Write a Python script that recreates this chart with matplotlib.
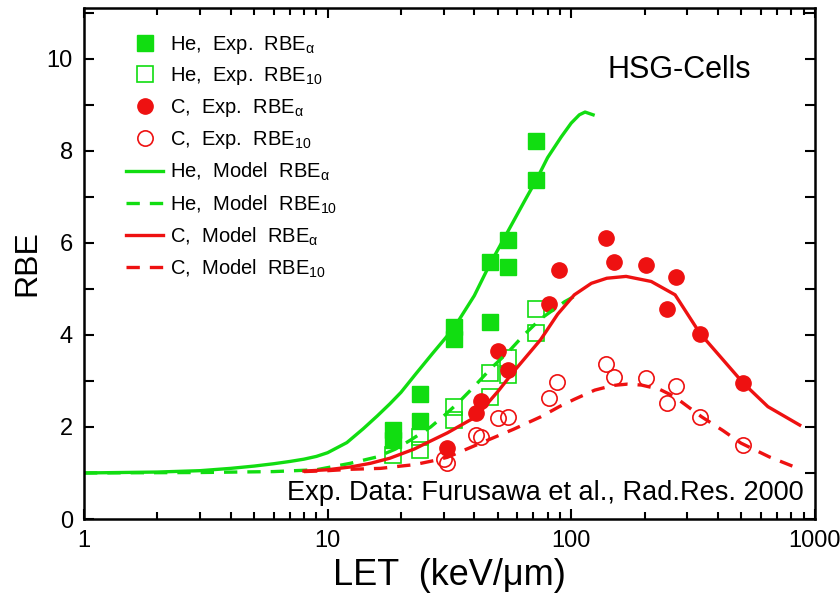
import numpy as np
import matplotlib.pyplot as plt
from matplotlib.ticker import MultipleLocator, FuncFormatter, LogLocator, NullFormatter

plt.rcParams['font.family'] = ['Liberation Sans', 'DejaVu Sans']
plt.rcParams['mathtext.fontset'] = 'dejavusans'

he_exp_a_let = [18.6, 18.6, 24, 24, 32.9, 32.9, 46.3, 46.3, 54.8, 54.8, 71.5, 71.5]
he_exp_a_rbe = [1.93, 1.72, 2.72, 2.12, 4.18, 3.91, 4.27, 5.59, 6.06, 5.48, 8.22, 7.37]

he_exp_10_let = [18.6, 24, 24, 32.9, 32.9, 46.3, 46.3, 54.8, 54.8, 71.5, 71.5]
he_exp_10_rbe = [1.40, 1.79, 1.50, 2.44, 2.15, 3.17, 2.66, 3.49, 3.13, 4.56, 4.05]

c_exp_a_let = [30.9, 40.6, 42.8, 50.1, 54.8, 81.4, 89.5, 139, 150, 202, 248, 270, 337, 509]
c_exp_a_rbe = [1.54, 2.30, 2.57, 3.66, 3.24, 4.67, 5.40, 6.10, 5.59, 5.51, 4.57, 5.25, 4.02, 2.95]

c_exp_10_let = [30.0, 31.0, 40.6, 42.6, 50.1, 54.8, 81.4, 87.6, 139, 150, 202, 248, 270, 337, 509]
c_exp_10_rbe = [1.30, 1.22, 1.83, 1.79, 2.19, 2.22, 2.62, 2.98, 3.37, 3.09, 3.06, 2.51, 2.90, 2.21, 1.61]

# Curvas del modelo
he_mod_a_let = [1, 2, 3, 4, 5, 6, 7, 8, 9, 10, 12, 14, 16, 18, 20, 23, 27, 33, 40, 46,
                55, 65, 72, 80, 91, 100, 108, 114, 123]
he_mod_a_rbe = [1.00, 1.02, 1.05, 1.10, 1.15, 1.20, 1.25, 1.30, 1.36, 1.44, 1.66, 1.96, 2.24, 2.50,
                2.75, 3.15, 3.60, 4.15, 4.85, 5.50, 6.25, 6.95, 7.37, 7.85, 8.30, 8.60, 8.78, 8.84, 8.78]

he_mod_10_let = [1, 3, 6, 9, 12.4, 16, 19, 22, 26.5, 30, 34, 40, 47, 55, 64, 75, 94, 110]
he_mod_10_rbe = [1.00, 1.01, 1.03, 1.07, 1.21, 1.35, 1.52, 1.72, 2.00, 2.24, 2.50, 2.88, 3.28,
                 3.62, 4.00, 4.35, 4.72, 4.92]

c_mod_a_let = [8, 10, 12.4, 15, 18, 22.7, 25, 31, 40.6, 50, 58, 75, 88, 103, 121, 140, 168,
               213, 267, 337, 415, 509, 642, 867]
c_mod_a_rbe = [1.04, 1.07, 1.13, 1.21, 1.32, 1.52, 1.63, 1.87, 2.22, 2.77, 3.20, 3.90, 4.45,
               4.87, 5.12, 5.23, 5.27, 5.16, 4.87, 4.04, 3.49, 2.95, 2.44, 2.04]

c_mod_10_let = [8, 10, 12.4, 16.5, 20, 22.7, 27.4, 31, 42.6, 58, 75, 90, 103, 125, 148, 170,
                194, 230, 265, 343, 420, 497, 650, 854]
c_mod_10_rbe = [1.03, 1.05, 1.08, 1.10, 1.15, 1.18, 1.27, 1.34, 1.65, 1.95, 2.22, 2.45, 2.60,
                2.80, 2.90, 2.93, 2.91, 2.82, 2.66, 2.22, 1.92, 1.65, 1.35, 1.10]

verde = '#11dd11'
rojo = '#ee1111'

fig = plt.figure(figsize=(8.4, 6.03), dpi=100)
ax = fig.add_axes([0.1, 0.1393, 0.87, 0.8474])

ax.plot(he_exp_a_let, he_exp_a_rbe, 's', color=verde, ms=11, label=r'He,  Exp.  RBE$_{\mathregular{α}}$')
ax.plot(he_exp_10_let, he_exp_10_rbe, 's', mfc='none', mec=verde, mew=1.2, ms=11,
        label=r'He,  Exp.  RBE$_{\mathregular{10}}$')
ax.plot(c_exp_a_let, c_exp_a_rbe, 'o', color=rojo, ms=11, label=r'C,  Exp.  RBE$_{\mathregular{α}}$')
ax.plot(c_exp_10_let, c_exp_10_rbe, 'o', mfc='none', mec=rojo, mew=1.2, ms=11,
        label=r'C,  Exp.  RBE$_{\mathregular{10}}$')

ax.plot(he_mod_a_let, he_mod_a_rbe, '-', color=verde, lw=2.4, label=r'He,  Model  RBE$_{\mathregular{α}}$')
ax.plot(he_mod_10_let, he_mod_10_rbe, '--', color=verde, lw=2.4, dashes=(4, 3),
        label=r'He,  Model  RBE$_{\mathregular{10}}$')
ax.plot(c_mod_a_let, c_mod_a_rbe, '-', color=rojo, lw=2.4, label=r'C,  Model  RBE$_{\mathregular{α}}$')
ax.plot(c_mod_10_let, c_mod_10_rbe, '--', color=rojo, lw=2.4, dashes=(4, 3),
        label=r'C,  Model  RBE$_{\mathregular{10}}$')

ax.set_xscale('log')
ax.set_xlim(1, 1000)
ax.set_ylim(0, 11.1)

ax.xaxis.set_major_formatter(FuncFormatter(lambda v, p: '%d' % v))
ax.xaxis.set_minor_locator(LogLocator(base=10, subs=np.arange(2, 10)))
ax.xaxis.set_minor_formatter(NullFormatter())
ax.yaxis.set_major_locator(MultipleLocator(1))
ax.yaxis.set_major_formatter(FuncFormatter(lambda v, p: '%d' % v if int(round(v)) % 2 == 0 else ''))

ax.tick_params(which='both', direction='in', top=True, right=True, width=1.5)
ax.tick_params(which='major', length=7, labelsize=17, pad=8)
ax.tick_params(which='minor', length=5)
for s in ax.spines.values():
    s.set_linewidth(1.8)

ax.set_xlabel('LET  (keV/μm)', fontsize=26, labelpad=4)
ax.set_ylabel('RBE', fontsize=23, labelpad=3)

ax.text(0.815, 0.879, 'HSG-Cells', transform=ax.transAxes, fontsize=22, ha='center', va='center')
ax.text(0.985, 0.025, 'Exp. Data: Furusawa et al., Rad.Res. 2000', transform=ax.transAxes,
        fontsize=19.5, ha='right', va='bottom')

ax.legend(loc='upper left', bbox_to_anchor=(0.0575, 0.95), frameon=False, fontsize=14.5,
          handlelength=1.85, labelspacing=0.49, handletextpad=0.35, borderaxespad=0, borderpad=0)

plt.savefig('out.png', dpi=100)
